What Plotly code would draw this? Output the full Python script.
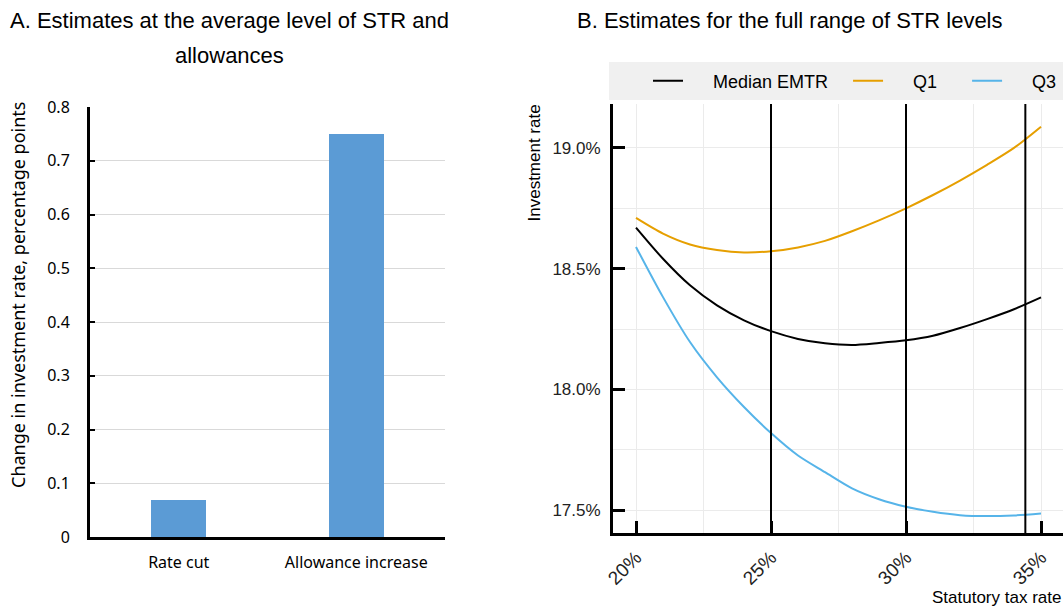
import plotly.graph_objects as go

# ---- Panel A data ----
categories = ["Rate cut", "Allowance increase"]
bar_values = [0.068, 0.75]

# ---- Panel B data ----
str_levels = [20, 21, 22, 23, 24, 25, 26, 27, 28, 29, 30, 31, 32, 33, 34, 35]
median_emtr = [18.670, 18.541, 18.431, 18.348, 18.286, 18.241, 18.209, 18.191,
               18.184, 18.192, 18.203, 18.222, 18.254, 18.291, 18.332, 18.381]
q1 = [18.710, 18.645, 18.600, 18.577, 18.567, 18.572, 18.588, 18.615,
      18.655, 18.700, 18.750, 18.805, 18.865, 18.930, 19.000, 19.088]
q3 = [18.590, 18.382, 18.196, 18.050, 17.927, 17.819, 17.726, 17.657,
      17.590, 17.545, 17.514, 17.493, 17.479, 17.475, 17.478, 17.486]
ref_lines = [25, 30, 34.42]
series_names = ["Median EMTR", "Q1", "Q3"]

W, H = 1063, 608
def px(x):
    return x / W
def py(y):
    return 1 - y / H

NARROW = "Liberation Sans, Arial, sans-serif"
SANS = "Noto Sans, Open Sans, sans-serif"
NB = "&nbsp;"

fig = go.Figure()

fig.add_trace(go.Bar(
    x=categories, y=bar_values, width=0.31,
    marker=dict(color="#5B9BD5", line=dict(width=0)),
    xaxis="x", yaxis="y", showlegend=False,
))

for name, vals, col, lead, trail in [(series_names[0], median_emtr, "black", 5, 3),
                                     (series_names[1], q1, "#E69F00", 5, 5),
                                     (series_names[2], q3, "#56B4E9", 5, 0)]:
    fig.add_trace(go.Scatter(
        x=str_levels, y=vals, mode="lines", name=NB * lead + name + NB * trail,
        line=dict(color=col, width=2, shape="spline", smoothing=0.8),
        xaxis="x2", yaxis="y2",
    ))

shapes = [
    dict(type="rect", xref="paper", yref="paper",
         x0=px(609), x1=1.0, y0=py(100), y1=py(62),
         fillcolor="#F0F0F0", line=dict(width=0), layer="below"),
]
for xv in ref_lines:
    shapes.append(dict(type="line", xref="x2", yref="y2 domain",
                       x0=xv, x1=xv, y0=0, y1=1,
                       line=dict(color="black", width=2), layer="above"))

annotations = [
    dict(text="A. Estimates at the average level of STR and", x=px(229), y=py(21),
         xref="paper", yref="paper", showarrow=False, xanchor="center", yanchor="middle",
         font=dict(family=NARROW, size=22, color="black")),
    dict(text="allowances", x=px(229), y=py(56),
         xref="paper", yref="paper", showarrow=False, xanchor="center", yanchor="middle",
         font=dict(family=NARROW, size=22, color="black")),
    dict(text="B. Estimates for the full range of STR levels", x=px(790), y=py(21),
         xref="paper", yref="paper", showarrow=False, xanchor="center", yanchor="middle",
         font=dict(family=NARROW, size=22, color="black")),
    dict(text="Change in investment rate, percentage points", x=px(18), y=py(295),
         xref="paper", yref="paper", showarrow=False, textangle=-90,
         xanchor="center", yanchor="middle",
         font=dict(family=SANS, size=18, color="black")),
    dict(text="Investment rate", x=px(534), y=py(103),
         xref="paper", yref="paper", showarrow=False, textangle=-90,
         xanchor="center", yanchor="top",
         font=dict(family=NARROW, size=17, color="black")),
    dict(text="Statutory tax rate", x=1.0, y=py(597),
         xref="paper", yref="paper", showarrow=False,
         xanchor="right", yanchor="middle",
         font=dict(family=NARROW, size=17, color="black")),
]

fig.update_layout(
    width=W, height=H, autosize=False,
    margin=dict(l=0, r=0, t=0, b=0),
    paper_bgcolor="white", plot_bgcolor="white",
    shapes=shapes, annotations=annotations,
    bargap=0,
    xaxis=dict(domain=[px(90), px(445)], range=[-0.5, 1.5], type="category",
               showline=True, linecolor="black", linewidth=3,
               ticks="", showgrid=False, automargin=False, ticklabelstandoff=9,
               tickfont=dict(family=SANS, size=16, color="black")),
    yaxis=dict(domain=[py(537), py(107)], range=[0, 0.8], dtick=0.1, tick0=0,
               showline=True, linecolor="black", linewidth=3,
               ticks="inside", ticklen=5, tickwidth=2, tickcolor="black",
               showgrid=True, gridcolor="#D9D9D9", gridwidth=1,
               zeroline=False, automargin=False, ticklabelstandoff=14,
               tickfont=dict(family=SANS, size=16, color="black")),
    xaxis2=dict(domain=[px(613), 1.0], range=[19.148, 35.815], anchor="y2",
                tick0=20, dtick=5, ticksuffix="%", tickangle=-45,
                showline=True, linecolor="black", linewidth=3,
                ticks="inside", ticklen=12, tickwidth=3, tickcolor="black",
                showgrid=True, gridcolor="#EBEBEB", gridwidth=1,
                minor=dict(dtick=2.5, tick0=20, showgrid=True, gridcolor="#EBEBEB", ticks=""),
                zeroline=False, automargin=False, ticklabelstandoff=3,
                tickfont=dict(family=NARROW, size=19, color="#222")),
    yaxis2=dict(domain=[py(533), py(104)], range=[17.405, 19.182], anchor="x2",
                tick0=17.5, dtick=0.5, tickformat=".1f", ticksuffix="%",
                showline=True, linecolor="black", linewidth=3,
                ticks="inside", ticklen=12, tickwidth=3, tickcolor="black",
                showgrid=True, gridcolor="#EBEBEB", gridwidth=1,
                minor=dict(dtick=0.25, tick0=17.5, showgrid=True, gridcolor="#EBEBEB", ticks=""),
                zeroline=False, automargin=False, ticklabelstandoff=6,
                tickfont=dict(family=NARROW, size=17, color="#222")),
    legend=dict(orientation="h", x=px(648), y=py(81), xanchor="left", yanchor="middle",
                bgcolor="rgba(0,0,0,0)", font=dict(family=NARROW, size=18, color="black"),
                itemwidth=30, tracegroupgap=0),
)

fig.write_html("out.html")
